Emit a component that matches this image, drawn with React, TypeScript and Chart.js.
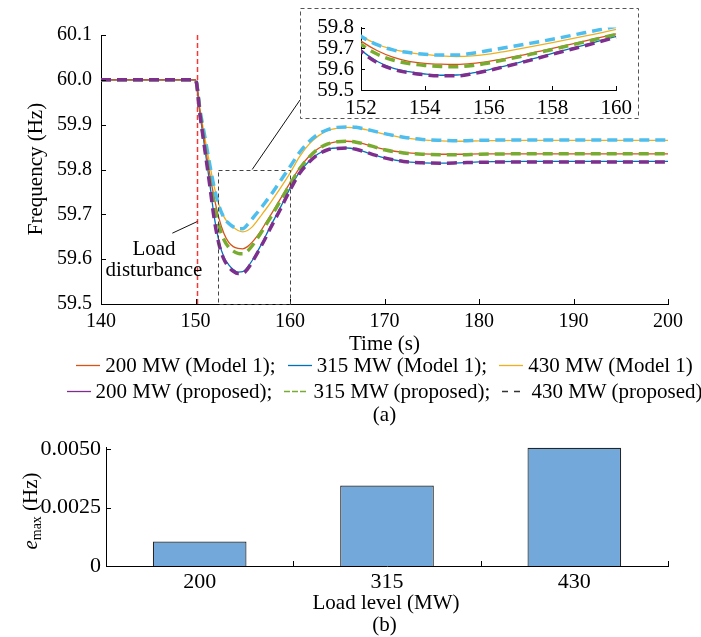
import React, { useEffect, useRef } from 'react';
import { Chart, registerables } from 'chart.js';

Chart.register(...registerables);

const FONT = '"Liberation Serif", "Times New Roman", Times, serif';

// ---------- data: frequency response (a) ----------
const TIME = [140, 150, 150.5, 151, 151.5, 152, 152.5, 153, 153.5, 154, 154.5, 155, 155.5, 156, 156.5, 157, 157.5, 158, 159, 160, 161, 162, 163, 164, 165, 166, 167, 168, 169, 170, 172, 174, 176, 178, 180, 185, 190, 200];

const M1_200 = [60.0, 60.0, 59.925, 59.855, 59.79, 59.735, 59.69, 59.658, 59.638, 59.628, 59.624, 59.623, 59.628, 59.638, 59.651, 59.666, 59.683, 59.70, 59.735, 59.77, 59.803, 59.829, 59.847, 59.857, 59.862, 59.863, 59.861, 59.856, 59.85, 59.845, 59.838, 59.835, 59.834, 59.834, 59.835, 59.835, 59.835, 59.835];
const M1_315 = [60.0, 60.0, 59.92, 59.845, 59.77, 59.692, 59.638, 59.605, 59.588, 59.577, 59.571, 59.572, 59.582, 59.597, 59.615, 59.634, 59.655, 59.676, 59.716, 59.758, 59.794, 59.818, 59.835, 59.845, 59.848, 59.848, 59.845, 59.839, 59.832, 59.826, 59.818, 59.815, 59.814, 59.815, 59.817, 59.818, 59.818, 59.818];
const M1_430 = [60.0, 60.0, 59.93, 59.87, 59.812, 59.76, 59.72, 59.695, 59.68, 59.671, 59.664, 59.661, 59.664, 59.672, 59.685, 59.699, 59.713, 59.728, 59.759, 59.792, 59.828, 59.856, 59.875, 59.887, 59.892, 59.894, 59.893, 59.889, 59.884, 59.879, 59.871, 59.866, 59.864, 59.863, 59.864, 59.865, 59.865, 59.865];
const P_200 = [60.0, 60.0, 59.918, 59.842, 59.766, 59.687, 59.632, 59.60, 59.583, 59.573, 59.568, 59.568, 59.578, 59.594, 59.612, 59.631, 59.651, 59.672, 59.712, 59.754, 59.791, 59.816, 59.834, 59.844, 59.847, 59.848, 59.845, 59.839, 59.832, 59.826, 59.818, 59.815, 59.814, 59.815, 59.816, 59.817, 59.817, 59.817];
const P_315 = [60.0, 60.0, 59.922, 59.85, 59.78, 59.719, 59.673, 59.644, 59.627, 59.618, 59.613, 59.612, 59.618, 59.63, 59.645, 59.661, 59.678, 59.695, 59.731, 59.767, 59.801, 59.827, 59.846, 59.857, 59.862, 59.863, 59.861, 59.856, 59.85, 59.844, 59.837, 59.834, 59.833, 59.833, 59.834, 59.835, 59.835, 59.835];
const P_430 = [60.0, 60.0, 59.93, 59.872, 59.812, 59.758, 59.718, 59.693, 59.68, 59.672, 59.668, 59.668, 59.677, 59.69, 59.703, 59.716, 59.73, 59.744, 59.775, 59.806, 59.838, 59.862, 59.879, 59.889, 59.894, 59.895, 59.894, 59.89, 59.885, 59.88, 59.872, 59.867, 59.865, 59.864, 59.865, 59.866, 59.866, 59.866];

const SERIES_VALUES = [M1_200, M1_315, M1_430, P_200, P_315, P_430];
const SERIES_LABELS = ['200 MW (Model 1)', '315 MW (Model 1)', '430 MW (Model 1)', '200 MW (proposed)', '315 MW (proposed)', '430 MW (proposed)'];
const SERIES_COLORS = ['#d95319', '#0072bd', '#edb120', '#7e2f8e', '#77ac30', '#4dbeee'];
const SERIES_DASHED = [false, false, false, true, true, true];

const MAIN_X_TICKS = [140, 150, 160, 170, 180, 190, 200];
const MAIN_Y_TICKS = [59.5, 59.6, 59.7, 59.8, 59.9, 60.0, 60.1];
const INSET_X_TICKS = [152, 154, 156, 158, 160];
const INSET_Y_TICKS = [59.5, 59.6, 59.7, 59.8];
const DISTURBANCE_TIME = 150.2;
const ZOOM_X = [152.4, 160];
const ZOOM_Y = [59.5, 59.8];

// ---------- data: max error (b) ----------
const LOAD_LEVELS = ['200', '315', '430'];
const EMAX = [0.00105, 0.00345, 0.00507];
const BAR_Y_TICKS = [0, 0.0025, 0.005];

// ---------- layout ----------
const INSET_BOX = { left: 300, top: 8, width: 338, height: 110 };

function drawInward(chart: any, xVals: number[] | null, yVals: number[], len: number, xPixels?: number[]) {
  const { ctx, chartArea: a } = chart;
  const xs = chart.scales.x;
  const ys = chart.scales.y;
  ctx.save();
  ctx.strokeStyle = '#000';
  ctx.lineWidth = 1;
  ctx.setLineDash([]);
  ctx.beginPath();
  const px = xPixels || (xVals || []).map((v) => xs.getPixelForValue(v));
  px.forEach((p) => {
    const x = Math.round(p) + 0.5;
    ctx.moveTo(x, a.bottom);
    ctx.lineTo(x, a.bottom - len);
  });
  yVals.forEach((v) => {
    const y = Math.round(ys.getPixelForValue(v)) + 0.5;
    ctx.moveTo(a.left, y);
    ctx.lineTo(a.left + len, y);
  });
  ctx.stroke();
  ctx.restore();
}

function buildLineDatasets() {
  return SERIES_VALUES.map((vals, i) => ({
    label: SERIES_LABELS[i],
    data: TIME.map((t, k) => ({ x: t, y: vals[k] })),
    borderColor: SERIES_COLORS[i],
    backgroundColor: SERIES_COLORS[i],
    borderWidth: SERIES_DASHED[i] ? 3.5 : 1.3,
    borderDash: SERIES_DASHED[i] ? [10, 6] : [],
    pointRadius: 0,
    cubicInterpolationMode: 'monotone' as const,
    fill: false,
    order: SERIES_DASHED[i] ? 0 : 1,
  }));
}

function lineScales(xMin: number, xMax: number, yMin: number, yMax: number, xTicks: number[], yTicks: number[], yWidth: number, xHeight: number, yPad: number, xPad: number, fontSize: number) {
  return {
    x: {
      type: 'linear' as const,
      min: xMin,
      max: xMax,
      afterBuildTicks: (axis: any) => { axis.ticks = xTicks.map((v) => ({ value: v })); },
      afterFit: (scale: any) => { scale.height = xHeight; },
      grid: { display: false, drawTicks: false },
      border: { display: true, color: '#000', width: 1 },
      ticks: { font: { family: FONT, size: fontSize }, color: '#000', padding: xPad, autoSkip: false, maxRotation: 0, callback: (v: any) => String(v) },
    },
    y: {
      type: 'linear' as const,
      min: yMin,
      max: yMax,
      afterBuildTicks: (axis: any) => { axis.ticks = yTicks.map((v) => ({ value: v })); },
      afterFit: (scale: any) => { scale.width = yWidth; },
      grid: { display: false, drawTicks: false },
      border: { display: true, color: '#000', width: 1 },
      ticks: { font: { family: FONT, size: fontSize }, color: '#000', padding: yPad, autoSkip: false, callback: (v: any) => Number(v).toFixed(1) },
    },
  };
}

const Label = ({ x, y, size = 21, rotate = false, children }: any) => (
  <div
    style={{
      position: 'absolute',
      left: x,
      top: y,
      transform: `translate(-50%, -50%)${rotate ? ' rotate(-90deg)' : ''}`,
      fontSize: size,
      lineHeight: 1,
      whiteSpace: 'nowrap',
    }}
  >
    {children}
  </div>
);

const LEGEND_SAMPLE_COLORS = ['#d95319', '#0072bd', '#edb120', '#7e2f8e', '#77ac30', '#333333'];
const LEGEND_SAMPLE_DASH = ['', '', '', '', '6 2', '6 6'];

const Sample = ({ color, dash }: any) => (
  <svg width={24} height={10} style={{ display: 'block', marginRight: 5, flex: 'none' }}>
    <line x1={0} y1={5.5} x2={24} y2={5.5} stroke={color} strokeWidth={1.3} strokeDasharray={dash || undefined} />
  </svg>
);

const LegendRow = ({ y, items }: any) => (
  <div
    style={{
      position: 'absolute',
      left: 0,
      width: 769,
      top: y - 13,
      height: 26,
      display: 'flex',
      justifyContent: 'center',
      alignItems: 'center',
      fontSize: 21,
      whiteSpace: 'nowrap',
      lineHeight: 1,
    }}
  >
    {items.map((i: number, k: number) => (
      <React.Fragment key={i}>
        <Sample color={LEGEND_SAMPLE_COLORS[i]} dash={LEGEND_SAMPLE_DASH[i]} />
        <span style={{ marginRight: k < items.length - 1 ? 12 : 0 }}>
          {SERIES_LABELS[i] + (k < items.length - 1 ? ';' : '')}
        </span>
      </React.Fragment>
    ))}
  </div>
);

export default function App() {
  const mainRef = useRef<HTMLCanvasElement>(null);
  const insetRef = useRef<HTMLCanvasElement>(null);
  const barRef = useRef<HTMLCanvasElement>(null);

  useEffect(() => {
    const mainDecor = {
      id: 'mainDecor',
      beforeDatasetsDraw(chart: any) {
        const { ctx, chartArea: a } = chart;
        const px = Math.round(chart.scales.x.getPixelForValue(DISTURBANCE_TIME)) + 0.5;
        ctx.save();
        ctx.strokeStyle = '#f03a3a';
        ctx.lineWidth = 1.5;
        ctx.setLineDash([5, 3]);
        ctx.beginPath();
        ctx.moveTo(px, a.top);
        ctx.lineTo(px, a.bottom);
        ctx.stroke();
        ctx.restore();
      },
      afterDatasetsDraw(chart: any) {
        const { ctx } = chart;
        const xs = chart.scales.x;
        const ys = chart.scales.y;
        drawInward(chart, MAIN_X_TICKS, MAIN_Y_TICKS, 5);
        ctx.save();
        // zoom rectangle
        const x1 = xs.getPixelForValue(ZOOM_X[0]);
        const x2 = xs.getPixelForValue(ZOOM_X[1]);
        const y1 = ys.getPixelForValue(ZOOM_Y[1]);
        const y2 = ys.getPixelForValue(ZOOM_Y[0]);
        ctx.strokeStyle = '#444';
        ctx.lineWidth = 1;
        ctx.setLineDash([4, 3]);
        ctx.strokeRect(Math.round(x1) + 0.5, Math.round(y1) + 0.5, Math.round(x2 - x1), Math.round(y2 - y1));
        // inset box
        ctx.strokeStyle = '#555';
        ctx.strokeRect(INSET_BOX.left + 0.5, INSET_BOX.top + 0.5, INSET_BOX.width, INSET_BOX.height);
        // connector to inset
        ctx.setLineDash([]);
        ctx.strokeStyle = '#111';
        ctx.beginPath();
        ctx.moveTo(xs.getPixelForValue(156), y1);
        ctx.lineTo(INSET_BOX.left, INSET_BOX.top + 92);
        ctx.stroke();
        // load disturbance pointer
        ctx.beginPath();
        ctx.moveTo(xs.getPixelForValue(147.55), ys.getPixelForValue(59.658));
        ctx.lineTo(xs.getPixelForValue(DISTURBANCE_TIME), ys.getPixelForValue(59.684));
        ctx.stroke();
        ctx.restore();
      },
    };

    const main = new Chart(mainRef.current as HTMLCanvasElement, {
      type: 'line',
      data: { datasets: buildLineDatasets() as any },
      options: {
        responsive: false,
        animation: false,
        devicePixelRatio: 1,
        layout: { padding: { left: 0, right: 33, top: 35, bottom: 0 } },
        plugins: { legend: { display: false }, tooltip: { enabled: false } },
        scales: lineScales(140, 200, 59.5, 60.1, MAIN_X_TICKS, MAIN_Y_TICKS, 101, 36, 9, 6, 20) as any,
      },
      plugins: [mainDecor],
    });

    const inset = new Chart(insetRef.current as HTMLCanvasElement, {
      type: 'line',
      data: { datasets: buildLineDatasets() as any },
      options: {
        responsive: false,
        animation: false,
        devicePixelRatio: 1,
        layout: { padding: { left: 0, right: 21, top: 18, bottom: 0 } },
        plugins: { legend: { display: false }, tooltip: { enabled: false } },
        scales: lineScales(152, 160, 59.5, 59.8, INSET_X_TICKS, INSET_Y_TICKS, 61, 38, 7, 6, 21) as any,
      },
      plugins: [
        {
          id: 'insetTicks',
          afterDatasetsDraw(chart: any) { drawInward(chart, INSET_X_TICKS, INSET_Y_TICKS, 4); },
        },
      ],
    });

    const bar = new Chart(barRef.current as HTMLCanvasElement, {
      type: 'bar',
      data: {
        labels: LOAD_LEVELS,
        datasets: [
          {
            label: 'e_max',
            data: EMAX,
            backgroundColor: '#72a8da',
            borderColor: '#262626',
            borderWidth: 1.2,
            barPercentage: 0.5,
            categoryPercentage: 1,
          },
        ],
      },
      options: {
        responsive: false,
        animation: false,
        devicePixelRatio: 1,
        layout: { padding: { left: 0, right: 33, top: 27, bottom: 0 } },
        plugins: { legend: { display: false }, tooltip: { enabled: false } },
        scales: {
          x: {
            type: 'category',
            offset: true,
            afterFit: (scale: any) => { scale.height = 34; },
            grid: { display: false, drawTicks: false },
            border: { display: true, color: '#000', width: 1 },
            ticks: { font: { family: FONT, size: 22 }, color: '#000', padding: 3, maxRotation: 0 },
          },
          y: {
            type: 'linear',
            min: 0,
            max: 0.0051,
            afterBuildTicks: (axis: any) => { axis.ticks = BAR_Y_TICKS.map((v) => ({ value: v })); },
            afterFit: (scale: any) => { scale.width = 106; },
            grid: { display: false, drawTicks: false },
            border: { display: true, color: '#000', width: 1 },
            ticks: {
              font: { family: FONT, size: 22 },
              color: '#000',
              padding: 5,
              callback: (v: any) => (Number(v) === 0 ? '0' : Number(v).toFixed(4)),
            },
          },
        } as any,
      },
      plugins: [
        {
          id: 'barTicks',
          afterDatasetsDraw(chart: any) {
            const xs = chart.scales.x;
            const n = LOAD_LEVELS.length;
            const px: number[] = [];
            for (let i = 0; i < n - 1; i++) px.push((xs.getPixelForValue(i) + xs.getPixelForValue(i + 1)) / 2);
            px.push(chart.chartArea.right);
            drawInward(chart, null, BAR_Y_TICKS, 5, px);
          },
        },
      ],
    });

    return () => {
      main.destroy();
      inset.destroy();
      bar.destroy();
    };
  }, []);

  return (
    <div
      style={{
        position: 'fixed',
        left: 0,
        top: 0,
        width: 701,
        height: 637,
        background: '#fff',
        fontFamily: FONT,
        color: '#000',
        overflow: 'hidden',
      }}
    >
      <canvas ref={mainRef} width={701} height={340} style={{ position: 'absolute', left: 0, top: 0, width: 701, height: 340 }} />
      <canvas
        ref={insetRef}
        width={INSET_BOX.width}
        height={120}
        style={{ position: 'absolute', left: INSET_BOX.left, top: INSET_BOX.top, width: INSET_BOX.width, height: 120 }}
      />
      <canvas ref={barRef} width={701} height={180} style={{ position: 'absolute', left: 0, top: 420, width: 701, height: 180 }} />

      <Label x={35} y={169} rotate>Frequency (Hz)</Label>
      <Label x={154} y={248}>Load</Label>
      <Label x={154} y={269}>disturbance</Label>
      <Label x={384.5} y={343}>Time (s)</Label>
      <LegendRow y={365} items={[0, 1, 2]} />
      <LegendRow y={391} items={[3, 4, 5]} />
      <Label x={384.5} y={414}>(a)</Label>

      <Label x={30} y={511} rotate>
        <i>e</i>
        <span style={{ fontSize: 14, position: 'relative', top: 4 }}>max</span> (Hz)
      </Label>
      <Label x={386} y={602}>Load level (MW)</Label>
      <Label x={384.5} y={624}>(b)</Label>
    </div>
  );
}
